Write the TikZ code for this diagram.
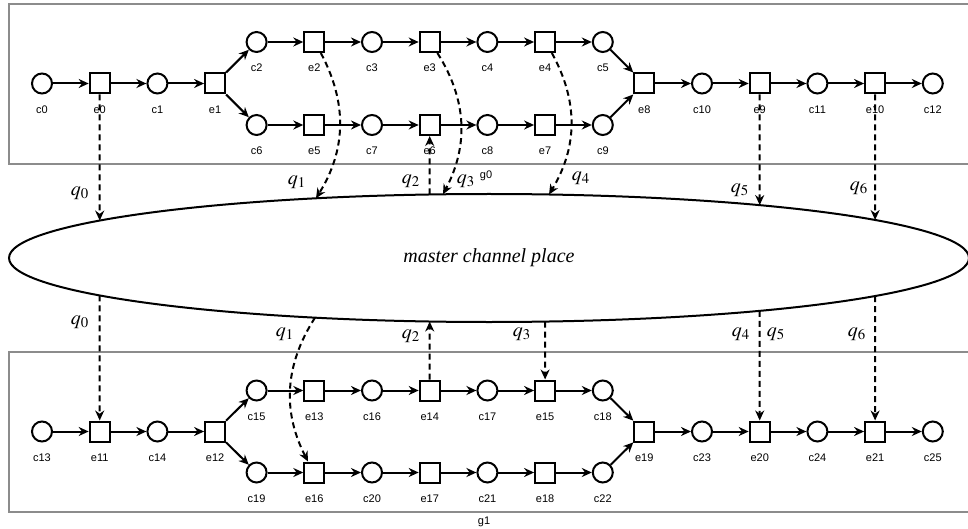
\documentclass[tikz,border=0pt]{standalone}
\usepackage{mathptmx}
\usepackage{fontspec}
\setmainfont{Liberation Serif}
\setsansfont{Liberation Sans}
\usepackage{tikz}
\usetikzlibrary{arrows.meta, positioning, shapes.geometric}

\begin{document}
\begin{tikzpicture}[auto, node distance=17.85pt, >={Stealth[length=5pt, width=4.5pt]}, line width=1pt, x=0.5pt, y=-0.5pt,
    every label/.style={font=\fontsize{5.5}{6}\selectfont\sffamily, inner sep=0pt}, label distance=5pt]
      \tikzstyle{circleNode} = [circle, draw=black, minimum size=10pt, inner sep=0pt]
      \tikzstyle{squaredNode} = [rectangle, draw=black, minimum size=10pt, inner sep=0pt]
      \tikzstyle{dashArrow} = [->, dash pattern=on 3pt off 2pt]
      \tikzstyle{groupBox} = [draw=black!45, line width=1pt]
      \tikzstyle{groupText} = [font=\fontsize{5.5}{6}\selectfont\sffamily, inner sep=0pt]

      \useasboundingbox (0,0) rectangle (968,529);
      \clip (0,0) rectangle (968,529);

      % Cajas g0 y g1
      \draw [groupBox] (9,4) rectangle (990,164);
      \draw [groupBox] (9,352) rectangle (990,512);
      \node at (486,176) [groupText] (lg0) {g0};
      \node at (484,522) [groupText] (lg1) {g1};

      % Nodos de g0
      \node at (42,83.5) [circleNode, label=below:c0] (c0) {};
      \node [squaredNode, right=of c0, label=below:e0] (e0) {};
      \node [circleNode, right=of e0, label=below:c1] (c1) {};
      \node [squaredNode, right=of c1, label=below:e1] (e1) {};
      \node at (256.6,42) [circleNode, label=below:c2] (c2) {};
      \node [squaredNode, right=of c2, label=below:e2] (e2) {};
      \node [circleNode, right=of e2, label=below:c3] (c3) {};
      \node [squaredNode, right=of c3, label=below:e3] (e3) {};
      \node [circleNode, right=of e3, label=below:c4] (c4) {};
      \node [squaredNode, right=of c4, label=below:e4] (e4) {};
      \node [circleNode, right=of e4, label=below:c5] (c5) {};
      \node at (256.6,125) [circleNode, label=below:c6] (c6) {};
      \node [squaredNode, right=of c6, label=below:e5] (e5) {};
      \node [circleNode, right=of e5, label=below:c7] (c7) {};
      \node [squaredNode, right=of c7, label=below:e6] (e6) {};
      \node [circleNode, right=of e6, label=below:c8] (c8) {};
      \node [squaredNode, right=of c8, label=below:e7] (e7) {};
      \node [circleNode, right=of e7, label=below:c9] (c9) {};
      \node at (644.3,83.5) [squaredNode, label=below:e8] (e8) {};
      \node [circleNode, right=of e8, label=below:c10] (c10) {};
      \node [squaredNode, right=of c10, label=below:e9] (e9) {};
      \node [circleNode, right=of e9, label=below:c11] (c11) {};
      \node [squaredNode, right=of c11, label=below:e10] (e10) {};
      \node [circleNode, right=of e10, label=below:c12] (c12) {};

      % Nodos de g1
      \node at (42,431.5) [circleNode, label=below:c13] (c13) {};
      \node [squaredNode, right=of c13, label=below:e11] (e11) {};
      \node [circleNode, right=of e11, label=below:c14] (c14) {};
      \node [squaredNode, right=of c14, label=below:e12] (e12) {};
      \node at (256.6,390.5) [circleNode, label=below:c15] (c15) {};
      \node [squaredNode, right=of c15, label=below:e13] (e13) {};
      \node [circleNode, right=of e13, label=below:c16] (c16) {};
      \node [squaredNode, right=of c16, label=below:e14] (e14) {};
      \node [circleNode, right=of e14, label=below:c17] (c17) {};
      \node [squaredNode, right=of c17, label=below:e15] (e15) {};
      \node [circleNode, right=of e15, label=below:c18] (c18) {};
      \node at (256.6,472.5) [circleNode, label=below:c19] (c19) {};
      \node [squaredNode, right=of c19, label=below:e16] (e16) {};
      \node [circleNode, right=of e16, label=below:c20] (c20) {};
      \node [squaredNode, right=of c20, label=below:e17] (e17) {};
      \node [circleNode, right=of e17, label=below:c21] (c21) {};
      \node [squaredNode, right=of c21, label=below:e18] (e18) {};
      \node [circleNode, right=of e18, label=below:c22] (c22) {};
      \node at (644.3,431.5) [squaredNode, label=below:e19] (e19) {};
      \node [circleNode, right=of e19, label=below:c23] (c23) {};
      \node [squaredNode, right=of c23, label=below:e20] (e20) {};
      \node [circleNode, right=of e20, label=below:c24] (c24) {};
      \node [squaredNode, right=of c24, label=below:e21] (e21) {};
      \node [circleNode, right=of e21, label=below:c25] (c25) {};

      % Lugar del canal maestro
      \node at (489,258) [ellipse, draw=black, minimum width=480pt, minimum height=64pt, inner sep=0pt, font=\itshape] (mcp) {master channel place};
      \coordinate (t0) at (99.7,220.6);
      \coordinate (t1) at (316,198.3);
      \coordinate (t2) at (429.7,194.5);
      \coordinate (t3) at (443,194.3);
      \coordinate (t4) at (549,194.5);
      \coordinate (t5) at (759.7,205.1);
      \coordinate (t6) at (875.1,220);
      \coordinate (b0) at (99.7,295.4);
      \coordinate (b1) at (315,317.7);
      \coordinate (b2) at (429.7,321.5);
      \coordinate (b3) at (545.1,321.6);
      \coordinate (b45) at (759.7,310.9);
      \coordinate (b6) at (875.1,296);

      % Arcos de g0
      \draw [->] (c0) -- (e0);
      \draw [->] (e0) -- (c1);
      \draw [->] (c1) -- (e1);
      \draw [->] (e1) -- (c2);
      \draw [->] (e1) -- (c6);
      \draw [->] (c2) -- (e2);
      \draw [->] (e2) -- (c3);
      \draw [->] (c3) -- (e3);
      \draw [->] (e3) -- (c4);
      \draw [->] (c4) -- (e4);
      \draw [->] (e4) -- (c5);
      \draw [->] (c6) -- (e5);
      \draw [->] (e5) -- (c7);
      \draw [->] (c7) -- (e6);
      \draw [->] (e6) -- (c8);
      \draw [->] (c8) -- (e7);
      \draw [->] (e7) -- (c9);
      \draw [->] (c5) -- (e8);
      \draw [->] (c9) -- (e8);
      \draw [->] (e8) -- (c10);
      \draw [->] (c10) -- (e9);
      \draw [->] (e9) -- (c11);
      \draw [->] (c11) -- (e10);
      \draw [->] (e10) -- (c12);

      % Arcos de g1
      \draw [->] (c13) -- (e11);
      \draw [->] (e11) -- (c14);
      \draw [->] (c14) -- (e12);
      \draw [->] (e12) -- (c15);
      \draw [->] (e12) -- (c19);
      \draw [->] (c15) -- (e13);
      \draw [->] (e13) -- (c16);
      \draw [->] (c16) -- (e14);
      \draw [->] (e14) -- (c17);
      \draw [->] (c17) -- (e15);
      \draw [->] (e15) -- (c18);
      \draw [->] (c19) -- (e16);
      \draw [->] (e16) -- (c20);
      \draw [->] (c20) -- (e17);
      \draw [->] (e17) -- (c21);
      \draw [->] (c21) -- (e18);
      \draw [->] (e18) -- (c22);
      \draw [->] (c18) -- (e19);
      \draw [->] (c22) -- (e19);
      \draw [->] (e19) -- (c23);
      \draw [->] (c23) -- (e20);
      \draw [->] (e20) -- (c24);
      \draw [->] (c24) -- (e21);
      \draw [->] (e21) -- (c25);

      % Mensajes q
      \draw [dashArrow] (e0) -- (t0);
      \draw [dashArrow] (e2) to[bend left=30] (t1);
      \draw [dashArrow] (t2) -- (e6);
      \draw [dashArrow] (e3) to[bend left=30] (t3);
      \draw [dashArrow] (e4) to[bend left=30] (t4);
      \draw [dashArrow] (e9) -- (t5);
      \draw [dashArrow] (e10) -- (t6);
      \draw [dashArrow] (b0) -- (e11);
      \draw [dashArrow] (b1) to[bend right=30] (e16);
      \draw [dashArrow] (e14) -- (b2);
      \draw [dashArrow] (b3) -- (e15);
      \draw [dashArrow] (b45) -- (e20);
      \draw [dashArrow] (b6) -- (e21);

      \node at (80,193) (lq0) {$q_0$};
      \node at (297,182) (lq1) {$q_1$};
      \node at (411,181) (lq2) {$q_2$};
      \node at (466,181) (lq3) {$q_3$};
      \node at (581,178) (lq4) {$q_4$};
      \node at (740,190) (lq5) {$q_5$};
      \node at (859,188) (lq6) {$q_6$};
      \node at (80,322) (mq0) {$q_0$};
      \node at (285,334) (mq1) {$q_1$};
      \node at (411,336) (mq2) {$q_2$};
      \node at (522,334) (mq3) {$q_3$};
      \node at (741,334) (mq4) {$q_4$};
      \node at (776,334) (mq5) {$q_5$};
      \node at (857,334) (mq6) {$q_6$};

    \end{tikzpicture}
\end{document}
